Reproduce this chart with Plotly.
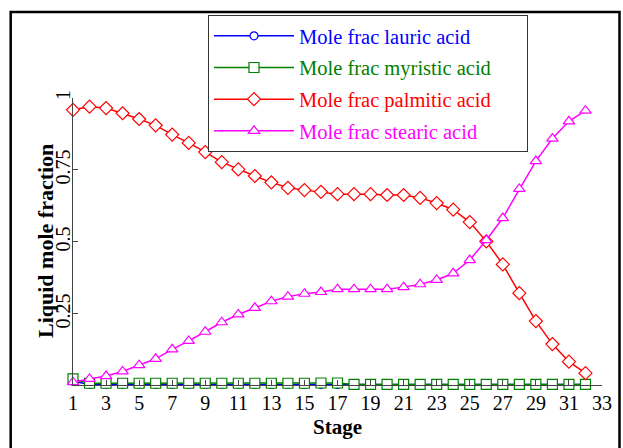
import plotly.graph_objects as go

stages = list(range(1, 33))
lauric = [0.016, 0.005, 0.005, 0.005, 0.005, 0.005, 0.005, 0.005, 0.005, 0.005,
          0.005, 0.005, 0.005, 0.005, 0.005, 0.005, 0.005, 0.005, 0.005, 0.005,
          0.005, 0.005, 0.005, 0.005, 0.005, 0.005, 0.005, 0.005, 0.005, 0.005,
          0.005, 0.005]
myristic = [0.024, 0.009, 0.009, 0.009, 0.009, 0.009, 0.009, 0.009, 0.009, 0.009,
            0.009, 0.009, 0.009, 0.009, 0.009, 0.010, 0.010, 0.005, 0.005, 0.005,
            0.005, 0.005, 0.005, 0.005, 0.005, 0.005, 0.005, 0.005, 0.005, 0.005,
            0.005, 0.005]
palmitic = [0.959, 0.970, 0.965, 0.947, 0.927, 0.905, 0.873, 0.844, 0.812, 0.777,
            0.752, 0.729, 0.707, 0.688, 0.680, 0.674, 0.666, 0.666, 0.666, 0.663,
            0.663, 0.653, 0.635, 0.612, 0.569, 0.502, 0.422, 0.322, 0.225, 0.145,
            0.084, 0.044]
stearic = [0.013, 0.024, 0.034, 0.050, 0.072, 0.094, 0.127, 0.156, 0.188, 0.221,
           0.248, 0.271, 0.294, 0.310, 0.320, 0.326, 0.336, 0.336, 0.336, 0.336,
           0.343, 0.353, 0.368, 0.391, 0.437, 0.506, 0.583, 0.684, 0.781, 0.859,
           0.919, 0.956]

series_names = ["Mole frac lauric acid", "Mole frac myristic acid",
                "Mole frac palmitic acid", "Mole frac stearic acid"]
x_ticks = list(range(1, 34, 2))
y_ticks = [0.25, 0.5, 0.75, 1]
y_tick_labels = ["0.25", "0.5", "0.75", "1"]

colors = ["#0000ff", "#008000", "#ff0000", "#ff00ff"]
symbols = ["circle", "square", "diamond", "triangle-up"]
sizes = [8, 10, 10, 10]
serif = "Liberation Serif"
pad = "&nbsp;" * 6

fig = go.Figure()
for i, (name, vals) in enumerate(zip(series_names, [lauric, myristic, palmitic, stearic])):
    fig.add_trace(go.Scatter(
        x=stages, y=vals, mode="lines+markers",
        name=f'<span style="color:{colors[i]}">{name}</span>{pad}',
        legendgroup=f"g{i}",
        line=dict(color=colors[i], width=1.5),
        marker=dict(symbol=symbols[i], size=sizes[i],
                    color="white", line=dict(color=colors[i], width=1.2)),
        cliponaxis=False,
    ))

L, R, T, B = 73, 21, 98, 63
W, H = 623, 448
pw, ph = W - L - R, H - T - B

def px_x(p):
    return (p - L) / pw

def px_y(p):
    return (H - B - p) / ph

fig.update_layout(
    width=W, height=H,
    margin=dict(l=L, r=R, t=T, b=B),
    paper_bgcolor="white", plot_bgcolor="white",
    font=dict(family=serif, size=20, color="black"),
    showlegend=True,
    legend=dict(
        x=px_x(208), y=px_y(15), xanchor="left", yanchor="top",
        bgcolor="white", bordercolor="#333333", borderwidth=1,
        font=dict(family=serif, size=20.5),
        tracegroupgap=2, itemwidth=80,
    ),
    xaxis=dict(
        range=[1, 33], tickmode="array", tickvals=x_ticks,
        ticks="inside", ticklen=5, tickcolor="#444444",
        showline=True, linecolor="#444444", linewidth=1,
        showgrid=False, zeroline=False, mirror=False,
        tickfont=dict(family=serif, size=20),
        title=dict(text="<b>Stage</b>", font=dict(family=serif, size=21), standoff=6),
    ),
    yaxis=dict(
        range=[0.003, 1], tickmode="array", tickvals=y_ticks, ticktext=y_tick_labels,
        ticks="inside", ticklen=5, tickcolor="#444444", tickangle=-90,
        ticklabelstandoff=-6,
        showline=True, linecolor="#444444", linewidth=1,
        showgrid=False, zeroline=False, mirror=False,
        tickfont=dict(family=serif, size=20),
    ),
    annotations=[dict(
        text="<b>Liquid mole fraction</b>", textangle=-90,
        xref="paper", yref="paper", x=px_x(45), y=px_y(241),
        xanchor="center", yanchor="middle", showarrow=False,
        font=dict(family=serif, size=22, color="black"),
    )],
    shapes=[dict(type="rect", xref="paper", yref="paper",
                 x0=px_x(10.7), x1=px_x(619.5), y0=px_y(470), y1=px_y(12),
                 line=dict(color="black", width=2.5), fillcolor="rgba(0,0,0,0)",
                 layer="below")],
)

fig.write_html("out.html")
